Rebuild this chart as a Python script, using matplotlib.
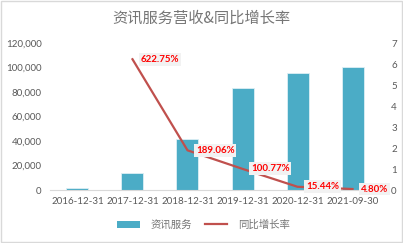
import matplotlib
matplotlib.use("Agg")
import matplotlib.pyplot as plt
from matplotlib.lines import Line2D
from matplotlib.patches import Patch, Rectangle

plt.rcParams['font.family'] = ['Lato', 'Noto Sans CJK SC', 'DejaVu Sans']

categories = ["2016-12-31", "2017-12-31", "2018-12-31", "2019-12-31", "2020-12-31", "2021-09-30"]
revenue = [1980, 14300, 41300, 83000, 95800, 100300]
growth = [None, 6.2275, 1.8906, 1.0077, 0.1544, 0.0480]
growth_labels = ["", "622.75%", "189.06%", "100.77%", "15.44%", "4.80%"]
left_ticks = [0, 20000, 40000, 60000, 80000, 100000, 120000]
right_ticks = [0, 1, 2, 3, 4, 5, 6, 7]

bar_color = "#4BACC6"
line_color = "#C0504D"
text_grey = "#595959"

fig = plt.figure(figsize=(4.03, 2.43), dpi=100)
fig.patches.append(Rectangle((0.002, 0.004), 0.995, 0.992, transform=fig.transFigure,
                             fill=False, edgecolor="#D9D9D9", linewidth=1))
ax = fig.add_axes([0.124, 0.218, 0.819, 0.605])
x = list(range(len(categories)))
ax.bar(x, revenue, width=0.4, color=bar_color, edgecolor="#DDEFF5", linewidth=0.6, zorder=2)
ax.set_xlim(-0.5, len(categories) - 0.5)
ax.set_ylim(0, 120000)
ax.set_yticks(left_ticks)
ax.set_yticklabels([f"{v:,}" for v in left_ticks])
ax.set_xticks(x)
ax.set_xticklabels(categories)
for s in ["top", "right", "left"]:
    ax.spines[s].set_visible(False)
ax.spines["bottom"].set_color("#D9D9D9")
ax.tick_params(axis="both", length=0, labelsize=7, colors=text_grey, pad=6)
ax.tick_params(axis="x", pad=5)

ax2 = ax.twinx()
gx = [i for i, g in enumerate(growth) if g is not None]
gy = [g for g in growth if g is not None]
ax2.plot(gx, gy, color=line_color, linewidth=1.6, zorder=3)
ax2.set_ylim(0, 7)
ax2.set_yticks(right_ticks)
for s in ["top", "right", "left", "bottom"]:
    ax2.spines[s].set_visible(False)
ax2.tick_params(axis="y", length=0, labelsize=7, colors=text_grey, pad=8)
for i, g in enumerate(growth):
    if g is None:
        continue
    ax2.annotate(growth_labels[i], (i, g), xytext=(6, 0), textcoords="offset points",
                 ha="left", va="center", fontsize=7, fontweight="bold", color="#FF0000",
                 bbox=dict(boxstyle="square,pad=0.2", fc="#F2F2F2", ec="none"), zorder=5)

fig.text(0.5, 0.925, "资讯服务营收&同比增长率", ha="center", va="center",
         fontsize=11, color="#767676", family=['Noto Sans CJK SC', 'DejaVu Sans'])

handles = [Patch(facecolor=bar_color, edgecolor="none"),
           Line2D([0], [0], color=line_color, linewidth=1.6)]
fig.legend(handles, ["资讯服务", "同比增长率"], loc="center", bbox_to_anchor=(0.505, 0.075),
           ncol=2, frameon=False, labelcolor="#767676",
           prop={'family': ['Noto Sans CJK SC', 'DejaVu Sans'], 'size': 7.5},
           handlelength=2.2, handleheight=0.6, columnspacing=1.2, handletextpad=1.0)

fig.savefig("out.png", dpi=100)
